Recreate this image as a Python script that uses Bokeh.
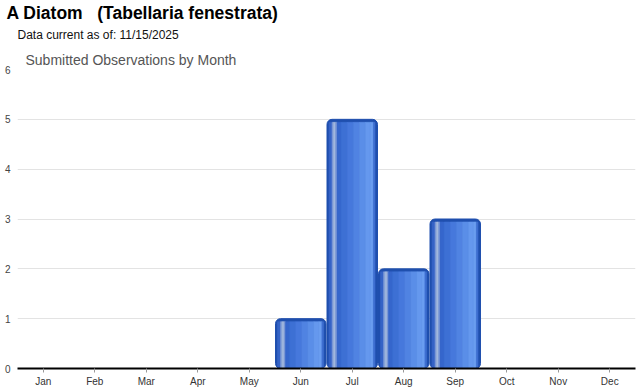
from bokeh.plotting import figure
from bokeh.models import Title, FixedTicker, ColumnDataSource
from bokeh.transform import dodge
from bokeh.embed import file_html
from bokeh.resources import INLINE

months = ["Jan", "Feb", "Mar", "Apr", "May", "Jun", "Jul", "Aug", "Sep", "Oct", "Nov", "Dec"]
counts = [0, 0, 0, 0, 0, 1, 5, 2, 3, 0, 0, 0]
y_ticks = [0, 1, 2, 3, 4, 5, 6]

main_title = "A Diatom\u00a0\u00a0\u00a0(Tabellaria fenestrata)"
sub_title = "Data current as of: 11/15/2025"
chart_title = "Submitted Observations by Month"

FONT = "Liberation Sans"

xs = [i + 0.5 for i in range(len(months))]
src = ColumnDataSource(dict(x=xs, top=counts, inner=[max(c - 0.06, 0) for c in counts]))

p = figure(width=640, height=390, x_range=(0, 12), y_range=(0, 6),
           output_backend="svg", toolbar_location=None,
           min_border_left=17, min_border_right=5, min_border_bottom=22, min_border_top=69)
p.outline_line_color = None
p.background_fill_color = "white"

p.title.text = main_title
p.title.text_font = FONT
p.title.text_font_size = "17.5px"
p.title.text_font_style = "bold"
p.title.text_color = "#000000"
p.title.offset = -11
p.title.standoff = -4

p.add_layout(Title(text=chart_title, text_font=FONT, text_font_size="14px",
                   text_font_style="normal", text_color="#555555", offset=8, standoff=4), "above")
p.add_layout(Title(text=sub_title, text_font=FONT, text_font_size="12px",
                   text_font_style="normal", text_color="#111111", offset=0, standoff=11), "above")

# base bar (dark edge, rounded)
W = 0.98
p.vbar(x="x", top="top", bottom=0, width=W, source=src, fill_color="#1f4fae",
       line_color="#1f4fae", border_radius=5)

# stripes to imitate the shaded look: (left frac, right frac, colour)
stripes = [
    (0.04, 0.10, "#3563c6"), (0.10, 0.13, "#7d9ad6"), (0.13, 0.17, "#a3b8de"),
    (0.17, 0.20, "#7d9ad6"), (0.20, 0.28, "#3566cc"), (0.28, 0.40, "#3d70d4"),
    (0.40, 0.52, "#4678dc"), (0.52, 0.64, "#5083e2"), (0.64, 0.76, "#5a8ee8"),
    (0.76, 0.86, "#6598ee"), (0.86, 0.92, "#6a9df0"), (0.92, 0.95, "#3f70d2"),
]
for l, r, c in stripes:
    off = ((l + r) / 2 - 0.5) * W
    p.vbar(x=dodge("x", off), top="inner", bottom=0, width=(r - l) * W, source=src,
           fill_color=c, line_color=c, line_width=0.6)

p.xaxis.ticker = FixedTicker(ticks=xs)
p.xaxis.major_label_overrides = {x: m for x, m in zip(xs, months)}
p.xaxis.axis_line_color = "black"
p.xaxis.axis_line_width = 2
p.xaxis.major_tick_line_color = "#999999"
p.xaxis.major_tick_out = 4
p.xaxis.major_tick_in = 0
p.xaxis.minor_tick_line_color = None
p.xaxis.major_label_text_font = FONT
p.xaxis.major_label_text_font_size = "10px"
p.xaxis.major_label_text_color = "#333333"
p.xaxis.major_label_standoff = 3
p.xgrid.grid_line_color = None

p.yaxis.ticker = FixedTicker(ticks=y_ticks)
p.yaxis.axis_line_color = None
p.yaxis.major_tick_line_color = None
p.yaxis.major_tick_out = 0
p.yaxis.major_tick_in = 0
p.yaxis.minor_tick_line_color = None
p.yaxis.major_label_text_font = FONT
p.yaxis.major_label_text_font_size = "10px"
p.yaxis.major_label_text_color = "#444444"
p.yaxis.major_label_standoff = 7
p.ygrid.grid_line_color = "#e3e3e3"

open("out.html", "w").write(file_html(p, INLINE))
